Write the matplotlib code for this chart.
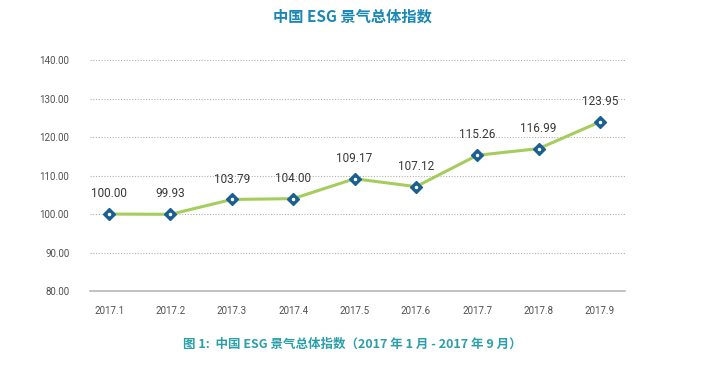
import matplotlib
matplotlib.use("Agg")
import matplotlib.pyplot as plt

plt.rcParams['font.family'] = ['Noto Sans CJK SC', 'DejaVu Sans']

# 数据
months = ['2017.1', '2017.2', '2017.3', '2017.4', '2017.5', '2017.6', '2017.7', '2017.8', '2017.9']
values = [100.00, 99.93, 103.79, 104.00, 109.17, 107.12, 115.26, 116.99, 123.95]
yticks = [80, 90, 100, 110, 120, 130, 140]

fig = plt.figure(figsize=(7.04, 3.68), dpi=100)
ax = fig.add_axes([0.128, 0.209, 0.76, 0.628])

x = list(range(len(months)))
ax.plot(x, values, color='#a5cd5c', lw=2.2, zorder=3)
ax.plot(x, values, ls='none', marker='D', ms=6, mfc='#1a5f92', mec='#1a5f92', zorder=4)
ax.plot(x, values, ls='none', marker='o', ms=1.5, mfc='white', mec='white', zorder=5)

for xi, v in zip(x, values):
    ax.text(xi, v + 3.6, f'{v:.2f}', ha='center', va='bottom', fontsize=8.5, color='#383838',
            family=['Roboto', 'DejaVu Sans'])

ax.set_ylim(80, 140)
ax.set_xlim(-0.31, 8.41)
ax.set_yticks(yticks)
ax.set_yticklabels([f'{t:.2f}' for t in yticks], fontsize=7, color='#505050',
                   family=['Roboto', 'DejaVu Sans'])
ax.set_xticks(x)
ax.set_xticklabels(months, fontsize=7, color='#505050', family=['Roboto', 'DejaVu Sans'])
ax.tick_params(length=0, pad=11)
ax.tick_params(axis='y', pad=15)

for t in yticks[1:]:
    ax.axhline(t, color='#b0b0b0', lw=0.8, ls=(0, (1, 1.5)), zorder=1)
for s in ['top', 'right', 'left']:
    ax.spines[s].set_visible(False)
ax.spines['bottom'].set_color('#b8b8b8')
ax.spines['bottom'].set_linewidth(1.2)

fig.text(0.5, 0.955, '中国 ESG 景气总体指数', ha='center', va='center', fontsize=11,
         color='#1b87b5', fontweight='bold')
fig.text(0.5, 0.065, '图 1:  中国 ESG 景气总体指数（2017 年 1 月 - 2017 年 9 月）', ha='center',
         va='center', fontsize=9, color='#2b9fa8', fontweight='bold')

fig.savefig('out.png', dpi=100)
